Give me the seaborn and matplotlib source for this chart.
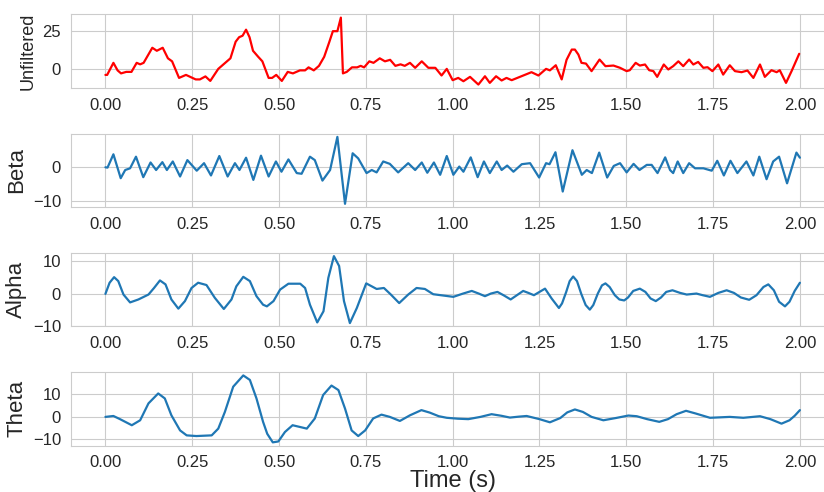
import matplotlib
matplotlib.use('Agg')
import matplotlib.pyplot as plt
import seaborn as sns

# values, time in seconds
raw_t = [0.000, 0.005, 0.023, 0.035, 0.045, 0.060, 0.075, 0.090, 0.100, 0.110,
         0.135, 0.148, 0.165, 0.180, 0.192, 0.212, 0.232, 0.260, 0.272, 0.288,
         0.302, 0.325, 0.345, 0.360, 0.375, 0.385, 0.395, 0.405, 0.415, 0.425,
         0.440, 0.452, 0.470, 0.480, 0.492, 0.508, 0.525, 0.540, 0.560, 0.575,
         0.585, 0.600, 0.615, 0.630, 0.645, 0.655, 0.668, 0.678, 0.684, 0.695,
         0.710, 0.725, 0.735, 0.745, 0.760, 0.772, 0.790, 0.805, 0.820, 0.835,
         0.850, 0.862, 0.877, 0.892, 0.911, 0.930, 0.950, 0.968, 0.983, 1.000,
         1.016, 1.031, 1.050, 1.074, 1.093, 1.107, 1.125, 1.141, 1.155, 1.170,
         1.194, 1.227, 1.247, 1.269, 1.280, 1.297, 1.314, 1.328, 1.343, 1.352,
         1.362, 1.371, 1.384, 1.400, 1.423, 1.440, 1.463, 1.482, 1.501, 1.510,
         1.527, 1.539, 1.554, 1.566, 1.578, 1.589, 1.608, 1.621, 1.635, 1.650,
         1.664, 1.681, 1.693, 1.707, 1.722, 1.734, 1.748, 1.765, 1.779, 1.798,
         1.813, 1.832, 1.849, 1.866, 1.885, 1.899, 1.918, 1.933, 1.942, 1.960,
         1.976, 1.998]
raw_v = [-4, -4, 4, -1, -3, -2, -2, 4, 3, 4,
         14, 12, 14, 7, 5, -6, -4, -7, -7, -5,
         -8, 0, 4, 7, 18, 21, 22, 26, 21, 12,
         8, 5, -6, -6, -4, -8, -2, -3, -1, -1,
         1, -1, 2, 8, 18, 25, 25, 34, -3, -2,
         1, 1, 2, 1, 5, 4, 7, 5, 6, 2,
         3, 2, 4, 0.7, 5, 0.7, 0.7, -4.4, 0, -7.5,
         -6, -8.2, -5.3, -10.4, -4.9, -9.3, -4.9, -7.7, -6, -7.5,
         -5.3, -2.2, -4.4, 0, -1, 2.4, -7, 6, 12.8, 12.8,
         9.5, 4, 3.5, -1.5, 6.2, 1.8, 2.2, 0.7, -1.5, -0.9,
         4, 2.2, 2.9, -0.9, -1.5, -5.3, 2.9, -0.4, 1.8, 5,
         1.8, 6.2, 2.9, 4.6, 0.7, 1.1, -1.5, 2.9, -3.8, 2.4,
         -1.5, -2.2, -1.1, -6, 2.9, -5.3, -0.9, -2.2, -0.9, -9.3,
         -1.5, 10]

beta_t = [0.000, 0.006, 0.023, 0.044, 0.057, 0.071, 0.088, 0.109, 0.130, 0.146,
          0.164, 0.177, 0.194, 0.215, 0.236, 0.263, 0.284, 0.304, 0.328, 0.352,
          0.373, 0.386, 0.405, 0.426, 0.448, 0.470, 0.491, 0.507, 0.527, 0.551,
          0.565, 0.589, 0.603, 0.625, 0.647, 0.668, 0.690, 0.712, 0.728, 0.752,
          0.767, 0.781, 0.800, 0.819, 0.843, 0.872, 0.892, 0.911, 0.927, 0.946,
          0.964, 0.983, 1.002, 1.019, 1.031, 1.052, 1.072, 1.090, 1.107, 1.127,
          1.141, 1.157, 1.175, 1.199, 1.223, 1.249, 1.269, 1.279, 1.296, 1.317,
          1.345, 1.372, 1.386, 1.401, 1.422, 1.445, 1.464, 1.482, 1.501, 1.521,
          1.538, 1.559, 1.573, 1.590, 1.612, 1.626, 1.635, 1.648, 1.664, 1.681,
          1.698, 1.722, 1.746, 1.762, 1.781, 1.800, 1.820, 1.846, 1.866, 1.883,
          1.904, 1.923, 1.940, 1.963, 1.990, 2.000]
beta_v = [0, -0.1, 3.8, -3.2, -0.8, -0.3, 3.1, -2.9, 1.4, -0.8,
          1.5, -0.8, 1.7, -2.7, 2.1, -1, 1.2, -2.4, 3.3, -2.7,
          1.2, -0.8, 2.8, -3.7, 3.4, -2.7, 1.7, -1.3, 2.3, -1.7,
          -1.9, 3.1, 2.1, -3.9, -0.8, 8.9, -10.7, 4.1, 2.6, -1.7,
          -0.8, -1.5, 1.7, 1, -1.5, 1.2, -0.8, 1.4, -1.6, 1.4,
          -2.2, 3.3, -2.2, 0.2, -1.3, 2.9, -2.9, 1.7, -1.7, 1.7,
          -0.8, 0.5, -1.3, 0.9, 1.2, -3, 1.2, 0.9, 4.4, -7.1,
          5, -2.2, -0.8, -1.7, 4.3, -3, 0.4, 1.2, -1.5, 1,
          -0.8, 0.7, 0.7, -1.7, 2.9, -0.8, -1.7, 1.7, -1.7, 1.2,
          -0.3, -0.3, -1, 1.9, -2.4, 1.9, -1.7, 1.7, -2.4, 3.1,
          -3.5, 1.7, 3.1, -4.7, 4.3, 2.8]

alpha_t = [0.000, 0.012, 0.025, 0.037, 0.052, 0.071, 0.095, 0.124, 0.140, 0.157,
           0.173, 0.190, 0.210, 0.229, 0.248, 0.267, 0.291, 0.315, 0.341, 0.363,
           0.377, 0.397, 0.416, 0.435, 0.454, 0.465, 0.484, 0.503, 0.527, 0.561,
           0.575, 0.589, 0.610, 0.628, 0.642, 0.658, 0.673, 0.687, 0.704, 0.724,
           0.751, 0.767, 0.781, 0.802, 0.822, 0.846, 0.872, 0.896, 0.920, 0.944,
           1.002, 1.030, 1.055, 1.075, 1.093, 1.110, 1.129, 1.148, 1.167, 1.185,
           1.203, 1.218, 1.234, 1.250, 1.266, 1.285, 1.306, 1.315, 1.327, 1.337,
           1.347, 1.358, 1.370, 1.383, 1.395, 1.405, 1.418, 1.430, 1.440, 1.452,
           1.467, 1.480, 1.494, 1.505, 1.520, 1.539, 1.555, 1.570, 1.585, 1.600,
           1.615, 1.633, 1.655, 1.674, 1.702, 1.720, 1.741, 1.765, 1.789, 1.810,
           1.830, 1.854, 1.875, 1.895, 1.909, 1.925, 1.940, 1.957, 1.970, 1.985,
           2.000]
alpha_v = [-0.1, 3.3, 5.0, 3.8, -0.3, -2.7, -1.8, -0.3, 1.7, 4.0,
           2.8, -1.8, -4.6, -2.3, 1.7, 3.3, 2.6, -1.3, -4.7, -1.8,
           2.2, 5.1, 3.8, -0.8, -3.4, -3.9, -2.3, 1.2, 3.0, 3.0,
           1.7, -3.4, -8.8, -5.4, 4.8, 11.4, 8.4, -2.3, -9.0, -4.4,
           3.1, 2.2, 1.4, 1.7, -0.3, -2.9, -0.3, 1.7, 1.4, -0.2,
           -1.0, 0, 0.8, 0, -0.8, 0, 0.5, -0.6, -1.8, -0.5,
           0.8, 0.2, -0.5, 0.5, 1.5, -1.5, -4.4, -3.0, 0.5, 3.8,
           5.2, 3.8, 0, -3.5, -4.9, -3.5, 0, 2.5, 3.1, 2.0,
           -0.5, -1.8, -2.1, -1.2, 0.8, 1.5, 0.5, -1.5, -2.3, -1.2,
           0.5, 1.0, 0.2, -0.3, 0, -0.5, -1.0, 0.2, 1.0, 0.2,
           -1.2, -1.9, -0.5, 2.0, 2.8, 1.0, -2.5, -3.9, -2.5, 0.8,
           3.3]

theta_t = [0.000, 0.023, 0.042, 0.076, 0.100, 0.124, 0.152, 0.171, 0.190, 0.215,
           0.234, 0.262, 0.306, 0.325, 0.344, 0.368, 0.397, 0.416, 0.435, 0.454,
           0.466, 0.482, 0.498, 0.517, 0.539, 0.561, 0.580, 0.603, 0.627, 0.651,
           0.671, 0.690, 0.709, 0.728, 0.748, 0.771, 0.795, 0.819, 0.848, 0.877,
           0.910, 0.934, 0.960, 0.983, 1.015, 1.045, 1.080, 1.112, 1.140, 1.165,
           1.190, 1.213, 1.250, 1.280, 1.310, 1.330, 1.352, 1.375, 1.400, 1.434,
           1.470, 1.506, 1.530, 1.560, 1.595, 1.620, 1.645, 1.672, 1.700, 1.741,
           1.770, 1.798, 1.837, 1.885, 1.915, 1.947, 1.970, 1.985, 2.000]
theta_v = [0, 0.4, -1.0, -3.7, -1.5, 6.0, 10.4, 8.2, 0.7, -6.0,
           -8.2, -8.5, -8.2, -5.2, 2.2, 13.4, 18.4, 16.4, 8.2, -2.2,
           -7.5, -11.3, -10.9, -6.7, -3.7, -4.5, -5.2, -0.7, 9.7, 13.9,
           11.9, 3.7, -6.0, -8.5, -6.0, -0.7, 1.0, 0, -1.8, 0.7,
           3.0, 1.9, 0.3, -0.4, -0.8, -1.0, 0, 1.2, 0.5, -0.3,
           0.1, 0.4, -1.0, -2.4, -0.5, 2.0, 3.3, 2.2, 0, -1.5,
           -0.5, 0.6, 0.3, -1.0, -2.2, -1.0, 1.2, 2.7, 1.5, -0.4,
           -0.2, 0, -0.4, 0.3, -1.0, -3.0, -1.5, 0.5, 3.0]

sns.set_style('whitegrid')
plt.rcParams['font.family'] = ['Liberation Sans', 'DejaVu Sans']

fig, axes = plt.subplots(4, 1, figsize=(8.24, 4.92), dpi=100)
fig.subplots_adjust(left=0.0858, right=1.0129, top=0.971, bottom=0.0941, hspace=0.62)

panels = [(raw_t, raw_v, 'red', 'Unfiltered', 13, [0, 25]),
          (beta_t, beta_v, '#1f77b4', 'Beta', 16, [-10, 0]),
          (alpha_t, alpha_v, '#1f77b4', 'Alpha', 16, [-10, 0, 10]),
          (theta_t, theta_v, '#1f77b4', 'Theta', 16, [-10, 0, 10])]

for ax, (t, v, col, name, fs, yt) in zip(axes, panels):
    sns.lineplot(x=t, y=v, ax=ax, color=col, linewidth=1.6)
    ax.set_ylabel(name, fontsize=fs)
    ax.set_yticks(yt)
    ax.set_xticks([0, 0.25, 0.5, 0.75, 1.0, 1.25, 1.5, 1.75, 2.0])
    ax.tick_params(labelsize=12)
    ax.set_xlim(-0.1, 2.1)

axes[-1].set_xlabel('Time (s)', fontsize=17, labelpad=0)

fig.savefig('out.png', dpi=100)
